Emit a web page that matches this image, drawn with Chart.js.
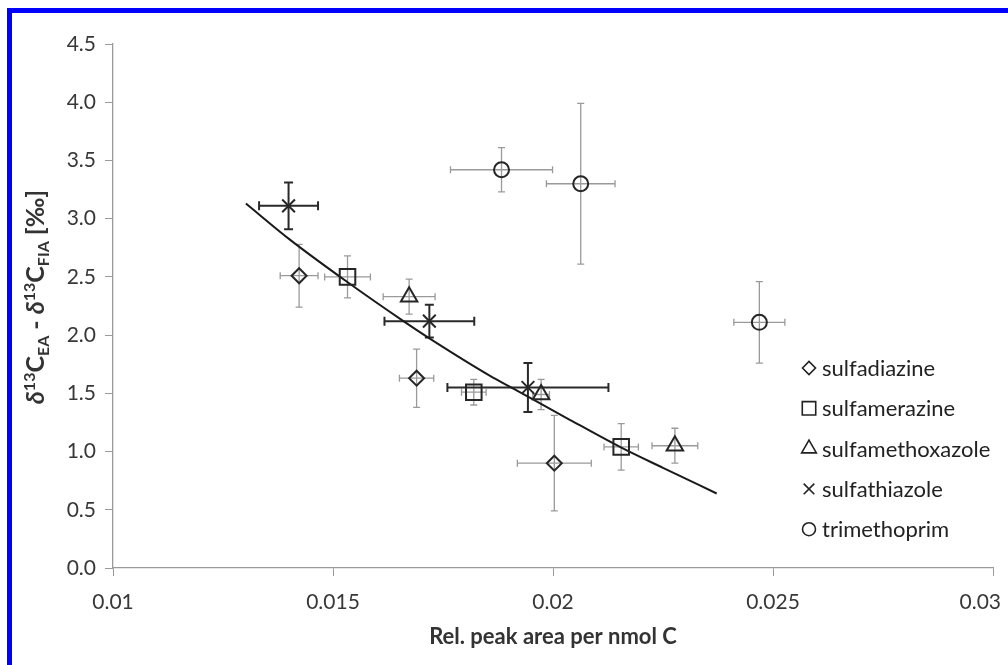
<!DOCTYPE html>
<html>
<head>
<meta charset="utf-8">
<script src="https://cdn.jsdelivr.net/npm/chart.js@4.4.1/dist/chart.umd.min.js"></script>
<style>
  html, body { margin: 0; padding: 0; background: #fff; }
  #wrap { position: relative; width: 1008px; height: 665px; overflow: hidden; }
  #frame { position: absolute; left: 7px; top: 8px; right: 0; bottom: 0; border-top: 5px solid #0000ff; border-left: 5px solid #0000ff; }
  #chart { position: absolute; left: 0; top: 0; width: 1008px; height: 665px; }
</style>
</head>
<body>
<div id="wrap">
  <div id="frame"></div>
  <canvas id="chart" width="1008" height="665"></canvas>
</div>
<script>
// values
const seriesNames = ['sulfadiazine', 'sulfamerazine', 'sulfamethoxazole', 'sulfathiazole', 'trimethoprim'];

const sulfadiazineX = [0.01423, 0.01690, 0.02003];
const sulfadiazineY = [2.51, 1.63, 0.90];
const sulfadiazineXErr = [0.00043, 0.00039, 0.00084];
const sulfadiazineYErr = [0.27, 0.25, 0.41];

const sulfamerazineX = [0.01533, 0.01820, 0.02155];
const sulfamerazineY = [2.50, 1.51, 1.04];
const sulfamerazineXErr = [0.00052, 0.00028, 0.00039];
const sulfamerazineYErr = [0.18, 0.11, 0.20];

const sulfamethoxazoleX = [0.01673, 0.01973, 0.02277];
const sulfamethoxazoleY = [2.33, 1.49, 1.05];
const sulfamethoxazoleXErr = [0.00059, 0.00019, 0.00052];
const sulfamethoxazoleYErr = [0.15, 0.13, 0.15];

const sulfathiazoleX = [0.01399, 0.01719, 0.01943];
const sulfathiazoleY = [3.11, 2.12, 1.55];
const sulfathiazoleXErr = [0.00067, 0.00102, 0.00183];
const sulfathiazoleYErr = [0.20, 0.14, 0.21];

const trimethoprimX = [0.01883, 0.02063, 0.02469];
const trimethoprimY = [3.42, 3.30, 2.11];
const trimethoprimXErr = [0.00116, 0.00078, 0.00058];
const trimethoprimYErr = [0.19, 0.69, 0.35];

// trend curve, points
const trendX = [0.01302, 0.01402, 0.01531, 0.01660, 0.01720, 0.01857, 0.01910, 0.02030, 0.02152, 0.02250, 0.02372];
const trendY = [3.13, 2.82, 2.46, 2.12, 1.97, 1.65, 1.54, 1.29, 1.04, 0.86, 0.64];

const xTicks = [0.01, 0.015, 0.02, 0.025, 0.03];
const yTicks = [0, 0.5, 1, 1.5, 2, 2.5, 3, 3.5, 4, 4.5];

const FONT = 'Lato, "Open Sans", sans-serif';
const MARK = '#262626';
const BAR_GREY = '#9a9a9a';
const BAR_DARK = '#2a2a2a';

function makeSeries(label, xs, ys, xe, ye, style, radius, dark) {
  return {
    label: label,
    data: xs.map((x, i) => ({ x: x, y: ys[i], xe: xe[i], ye: ye[i] })),
    pointStyle: style,
    pointRadius: radius,
    pointBorderWidth: 2,
    pointBorderColor: MARK,
    pointBackgroundColor: 'rgba(0,0,0,0)',
    barColor: dark ? BAR_DARK : BAR_GREY,
    barWidth: dark ? 2 : 1.3,
    capHalf: dark ? 4.5 : 3.5,
    showLine: false
  };
}

const datasets = [
  makeSeries(seriesNames[0], sulfadiazineX, sulfadiazineY, sulfadiazineXErr, sulfadiazineYErr, 'rectRot', 7.5, false),
  makeSeries(seriesNames[1], sulfamerazineX, sulfamerazineY, sulfamerazineXErr, sulfamerazineYErr, 'rect', 11, false),
  makeSeries(seriesNames[2], sulfamethoxazoleX, sulfamethoxazoleY, sulfamethoxazoleXErr, sulfamethoxazoleYErr, 'triangle', 9.5, false),
  makeSeries(seriesNames[3], sulfathiazoleX, sulfathiazoleY, sulfathiazoleXErr, sulfathiazoleYErr, 'crossRot', 9, true),
  makeSeries(seriesNames[4], trimethoprimX, trimethoprimY, trimethoprimXErr, trimethoprimYErr, 'circle', 7.5, false),
  {
    label: 'trend',
    data: trendX.map((x, i) => ({ x: x, y: trendY[i] })),
    showLine: true,
    borderColor: '#1a1a1a',
    borderWidth: 2,
    pointRadius: 0,
    cubicInterpolationMode: 'monotone',
    fill: false
  }
];

// error bars, drawn through the chart's own scales
const errorBars = {
  id: 'errorBars',
  beforeDatasetsDraw(chart) {
    const ctx = chart.ctx;
    const xs = chart.scales.x, ys = chart.scales.y;
    chart.data.datasets.forEach(ds => {
      if (!ds.barColor) return;
      ctx.save();
      ctx.strokeStyle = ds.barColor;
      ctx.lineWidth = ds.barWidth;
      const c = ds.capHalf;
      ds.data.forEach(p => {
        const px = xs.getPixelForValue(p.x), py = ys.getPixelForValue(p.y);
        const x0 = xs.getPixelForValue(p.x - p.xe), x1 = xs.getPixelForValue(p.x + p.xe);
        const y0 = ys.getPixelForValue(p.y - p.ye), y1 = ys.getPixelForValue(p.y + p.ye);
        ctx.beginPath();
        ctx.moveTo(x0, py); ctx.lineTo(x1, py);
        ctx.moveTo(x0, py - c); ctx.lineTo(x0, py + c);
        ctx.moveTo(x1, py - c); ctx.lineTo(x1, py + c);
        ctx.moveTo(px, y0); ctx.lineTo(px, y1);
        ctx.moveTo(px - c, y0); ctx.lineTo(px + c, y0);
        ctx.moveTo(px - c, y1); ctx.lineTo(px + c, y1);
        ctx.stroke();
      });
      ctx.restore();
    });
  }
};

// keep the last x label inside the picture, as the original does
const lastLabelInside = {
  id: 'lastLabelInside',
  beforeDraw(chart) {
    const items = chart.scales.x.getLabelItems();
    const last = items[items.length - 1];
    if (last) {
      last.options.textAlign = 'right';
      last.options.translation[0] = chart.width - 7;
    }
  }
};

// legend inside the plot and the two axis titles
const decorations = {
  id: 'decorations',
  afterDraw(chart) {
    const ctx = chart.ctx;
    const area = chart.chartArea;

    // legend
    ctx.save();
    ctx.font = '22px ' + FONT;
    ctx.textBaseline = 'middle';
    ctx.textAlign = 'left';
    const legendSizes = [6.5, 9.5, 8.5, 7.5, 6.5];
    chart.data.datasets.slice(0, 5).forEach((ds, i) => {
      const y = 368 + i * 40.3;
      ctx.strokeStyle = '#222';
      ctx.fillStyle = 'rgba(0,0,0,0)';
      ctx.lineWidth = 1.6;
      Chart.helpers.drawPoint(ctx, { pointStyle: ds.pointStyle, radius: legendSizes[i], rotation: 0, borderWidth: 1.6 }, 809, y);
      ctx.fillStyle = '#222';
      ctx.fillText(ds.label, 822, y + 1);
    });
    ctx.restore();

    // x title
    ctx.save();
    ctx.font = 'bold 22px ' + FONT;
    ctx.fillStyle = '#333';
    ctx.textAlign = 'center';
    ctx.textBaseline = 'middle';
    ctx.fillText('Rel. peak area per nmol C', (area.left + area.right) / 2, 637);
    ctx.restore();

    // y title with super/subscripts
    const big = 'bold 25px ' + FONT, ital = 'italic bold 25px ' + FONT, small = 'bold 16px ' + FONT;
    const parts = [
      ['δ', ital, 0], ['13', small, -9], ['C', big, 0], ['EA', small, 5], [' - ', big, 0],
      ['δ', ital, 0], ['13', small, -9], ['C', big, 0], ['FIA', small, 5], [' [‰]', big, 0]
    ];
    ctx.save();
    ctx.fillStyle = '#333';
    ctx.textBaseline = 'alphabetic';
    let total = 0;
    parts.forEach(p => { ctx.font = p[1]; total += ctx.measureText(p[0]).width; });
    ctx.translate(44, 297);
    ctx.rotate(-Math.PI / 2);
    let cx = -total / 2;
    parts.forEach(p => {
      ctx.font = p[1];
      ctx.fillText(p[0], cx, p[2]);
      cx += ctx.measureText(p[0]).width;
    });
    ctx.restore();
  }
};

Chart.defaults.font.family = FONT;
Chart.defaults.color = '#383838';

new Chart(document.getElementById('chart'), {
  type: 'scatter',
  data: { datasets: datasets },
  options: {
    responsive: false,
    animation: false,
    events: [],
    layout: { padding: { top: 44, right: 15, left: 0, bottom: 0 } },
    plugins: {
      legend: { display: false },
      tooltip: { enabled: false }
    },
    scales: {
      x: {
        type: 'linear',
        min: 0.01,
        max: 0.03,
        afterFit: s => { s.height = 97; s.paddingLeft = 0; s.paddingRight = 0; },
        afterBuildTicks: s => { s.ticks = xTicks.map(v => ({ value: v })); },
        grid: { drawOnChartArea: false, tickLength: 8, color: '#9a9a9a' },
        border: { color: '#9a9a9a', width: 1.3 },
        ticks: {
          padding: 14,
          font: { size: 21 },
          callback: v => String(v)
        }
      },
      y: {
        min: 0,
        max: 4.5,
        afterFit: s => { s.width = 113; s.paddingTop = 0; s.paddingBottom = 0; },
        afterBuildTicks: s => { s.ticks = yTicks.map(v => ({ value: v })); },
        grid: { drawOnChartArea: false, tickLength: 8, color: '#9a9a9a' },
        border: { color: '#9a9a9a', width: 1.3 },
        ticks: {
          padding: 9,
          font: { size: 21 },
          callback: v => v.toFixed(1)
        }
      }
    }
  },
  plugins: [errorBars, lastLabelInside, decorations]
});
</script>
</body>
</html>
